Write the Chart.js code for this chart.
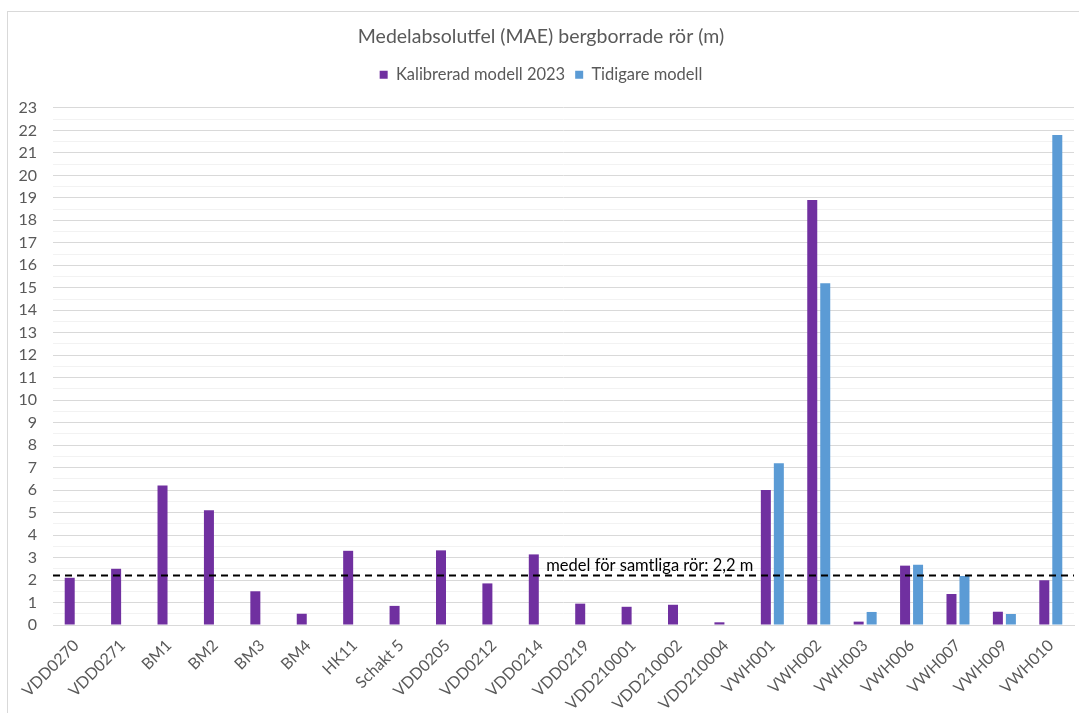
<!DOCTYPE html>
<html lang="sv">
<head>
<meta charset="utf-8">
<script src="https://cdn.jsdelivr.net/npm/chart.js@4.4.1/dist/chart.umd.min.js"></script>
<style>
    html, body { margin: 0; padding: 0; background: #fff; overflow: hidden; }
    body { width: 1079px; height: 713px; position: relative; }
    #frame {
        position: absolute; left: 7px; top: 11px;
        width: 1088px; height: 720px;
        border: 1px solid #d9d9d9; box-sizing: border-box;
    }
    #wrap { position: absolute; left: 0; top: 0; width: 1086px; height: 702px; }
</style>
</head>
<body>
<div id="frame"><div id="wrap"><canvas id="chart"></canvas></div></div>
<script>
const categories = ["VDD0270", "VDD0271", "BM1", "BM2", "BM3", "BM4", "HK11", "Schakt 5",
    "VDD0205", "VDD0212", "VDD0214", "VDD0219", "VDD210001", "VDD210002", "VDD210004",
    "VWH001", "VWH002", "VWH003", "VWH006", "VWH007", "VWH009", "VWH010"];

const kalibrerad = [2.1, 2.5, 6.2, 5.1, 1.5, 0.5, 3.3, 0.85, 3.32, 1.85, 3.14, 0.95, 0.81, 0.9, 0.12,
    6.0, 18.9, 0.15, 2.64, 1.38, 0.59, 1.99];
const tidigare = [null, null, null, null, null, null, null, null, null, null, null, null, null, null, null,
    7.2, 15.2, 0.58, 2.68, 2.18, 0.49, 21.8];

const meanValue = 2.2;
const meanLabel = "medel för samtliga rör: 2,2 m";
const meanLabelCategory = 10; // label starts just right of this category

const yMax = 23;
const FONT = "Lato, 'Noto Sans', sans-serif";
const GREY = "#595959";

// extra room between legend and plot
const legendGap = {
    id: "legendGap",
    beforeInit(chart) {
        const fit = chart.legend.fit;
        chart.legend.fit = function () {
            fit.call(this);
            this.height += 15;
        };
    }
};

// dashed mean line across the whole plot, drawn through the y scale
const meanLine = {
    id: "meanLine",
    afterDatasetsDraw(chart) {
        const { ctx, chartArea, scales } = chart;
        const y = scales.y.getPixelForValue(meanValue);
        ctx.save();
        ctx.strokeStyle = "#000";
        ctx.lineWidth = 2;
        ctx.setLineDash([7, 5]);
        ctx.beginPath();
        ctx.moveTo(chartArea.left, y);
        ctx.lineTo(chartArea.right, y);
        ctx.stroke();
        ctx.setLineDash([]);
        ctx.fillStyle = "#000";
        ctx.font = "16.5px " + FONT;
        ctx.textAlign = "left";
        ctx.textBaseline = "bottom";
        ctx.fillText(meanLabel, scales.x.getPixelForValue(meanLabelCategory) + 6, y - 2);
        ctx.restore();
    }
};

const ctx = document.getElementById("chart").getContext("2d");
new Chart(ctx, {
    type: "bar",
    data: {
        labels: categories,
        datasets: [
            { label: "Kalibrerad modell 2023", data: kalibrerad, backgroundColor: "#7030A0" },
            { label: "Tidigare modell", data: tidigare, backgroundColor: "#5B9BD5" }
        ]
    },
    options: {
        responsive: true,
        maintainAspectRatio: false,
        animation: false,
        categoryPercentage: 0.56,
        barPercentage: 0.77,
        layout: { padding: { left: 0, right: 20, top: 9, bottom: 0 } },
        plugins: {
            title: {
                display: true,
                text: "Medelabsolutfel (MAE) bergborrade rör (m)",
                color: GREY,
                font: { family: FONT, size: 19.5, weight: "normal" },
                padding: { top: 4, bottom: 8 }
            },
            legend: {
                display: true,
                labels: {
                    color: GREY,
                    font: { family: FONT, size: 16.5 },
                    usePointStyle: true,
                    pointStyle: "rect",
                    boxWidth: 8,
                    boxHeight: 8,
                    padding: 10
                }
            },
            tooltip: { enabled: false }
        },
        scales: {
            x: {
                grid: { display: false },
                border: { color: "#d9d9d9" },
                ticks: {
                    color: GREY,
                    font: { family: FONT, size: 16 },
                    minRotation: 45,
                    maxRotation: 45,
                    autoSkip: false
                },
                afterFit(scale) { scale.height = 89; }
            },
            y: {
                min: 0,
                max: yMax,
                border: { display: false },
                grid: {
                    color: (c) => Number.isInteger(c.tick.value) ? "#d9d9d9" : "#f2f2f2",
                    drawTicks: false
                },
                ticks: {
                    stepSize: 0.5,
                    autoSkip: false,
                    color: GREY,
                    font: { family: FONT, size: 16 },
                    padding: 16,
                    callback: (v) => Number.isInteger(v) ? v : ""
                },
                afterFit(scale) { scale.width = 45; }
            }
        }
    },
    plugins: [legendGap, meanLine]
});
</script>
</body>
</html>
